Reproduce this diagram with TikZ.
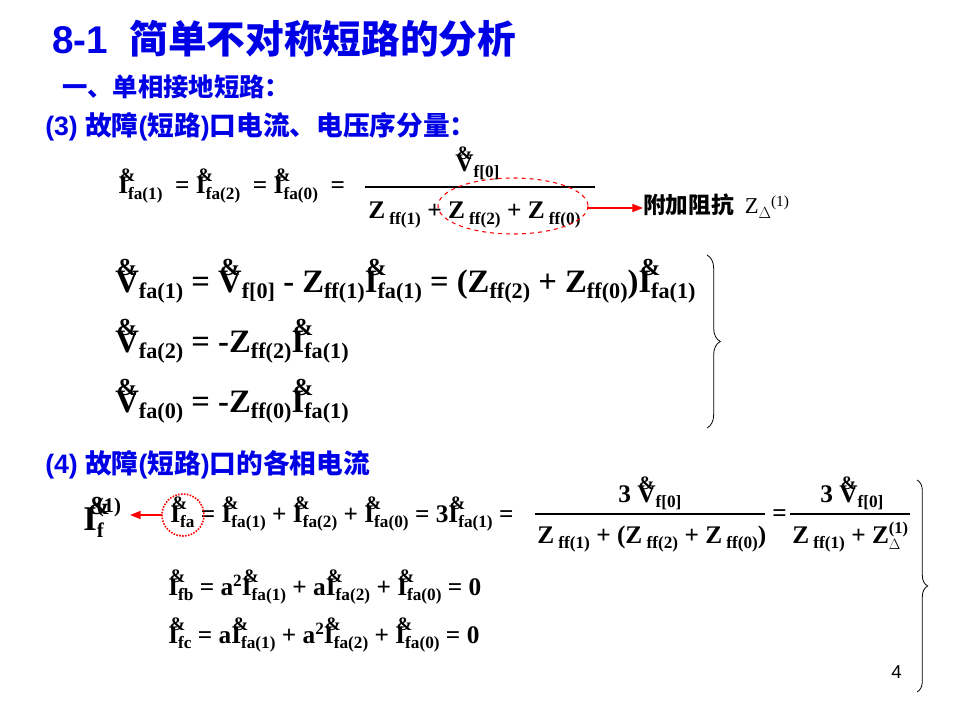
\documentclass[tikz,border=0pt]{standalone}
\usepackage{fontspec}
\setmainfont{Liberation Serif}
\newfontfamily\cjk{Noto Sans CJK SC}
\newfontfamily\arial{Liberation Sans}
\usetikzlibrary{decorations.pathreplacing,arrows.meta}
\newcommand\ph[2]{\makebox[0pt][l]{\hspace{0.05em}\raisebox{0.5em}{\scalebox{0.75}{\&}}}#1\raisebox{-0.45ex}{\scalebox{0.68}{#2}}}
\newcommand\sbs[1]{\raisebox{-0.45ex}{\scalebox{0.68}{#1}}}
\newcommand\supr[1]{\raisebox{0.7ex}{\scalebox{0.68}{#1}}}
\definecolor{tblue}{RGB}{0,0,230}
\begin{document}
\begin{tikzpicture}[x=0.75pt,y=-0.75pt,
  eqs/.style={anchor=base west,inner sep=0pt,font=\bfseries\fontsize{19}{22}\selectfont},
  eqb/.style={anchor=base west,inner sep=0pt,font=\bfseries\fontsize{24.5}{29}\selectfont},
  ttl/.style={anchor=base west,inner sep=0pt,text=tblue,font=\bfseries},
  bar/.style={line width=0.8pt},
  redarr/.style={red,line width=1.2pt,-{Triangle[length=8pt,width=6pt]}}]
\useasboundingbox (0,0) rectangle (960,720);
\fill[white] (0,0) rectangle (960,720);
\node[ttl,font=\bfseries\fontsize{29}{33}\selectfont] (t1) at (52,54) {\arial 8-1\ \ \cjk 简单不对称短路的分析};
\node[ttl,font=\fontsize{19}{22}\selectfont] (t2) at (62,97) {\cjk\bfseries 一、单相接地短路：};
\node[ttl,font=\fontsize{20}{24}\selectfont] (t3) at (45,136) {\arial\bfseries (3) \cjk 故障\arial(\cjk 短路\arial)\cjk 口电流、电压序分量：};
% eq1
\node[eqs] (e1) at (118,194) {\ph{I}{fa(1)}\ \ =\ \ph{I}{fa(2)}\ \ =\ \ph{I}{fa(0)}\ \ =};
\node[eqs] (n1) at (455,172) {\ph{V}{f[0]}};
\draw[bar] (365,187) -- (595,187);
\node[eqs] (d1) at (368,219) {Z\,\sbs{ff(1)} + Z\,\sbs{ff(2)} + Z\,\sbs{ff(0)}};
\draw[red,dashed,line width=0.8pt] (513,206) ellipse (75 and 28);
\coordinate (es) at (588,208);
\node[anchor=base west,inner sep=0pt,font=\fontsize{17}{20}\selectfont] (fj) at (643,214) {\cjk\bfseries 附加阻抗 \rmfamily\mdseries\ Z\raisebox{-0.4ex}{\scalebox{0.7}{$\Delta$}}\supr{(1)}};
\draw[redarr] (es) -- (fj.west |- es);
% big
\node[eqb] (e2) at (115,292) {\ph{V}{fa(1)} = \ph{V}{f[0]} - Z\sbs{ff(1)}\ph{I}{fa(1)} = (Z\sbs{ff(2)} + Z\sbs{ff(0)})\ph{I}{fa(1)}};
\node[eqb] (e3) at (115,352) {\ph{V}{fa(2)} = -Z\sbs{ff(2)}\ph{I}{fa(1)}};
\node[eqb] (e4) at (115,412) {\ph{V}{fa(0)} = -Z\sbs{ff(0)}\ph{I}{fa(1)}};
\draw[decorate,decoration={brace,amplitude=10pt},line width=0.6pt] (707,255) -- (707,428);
\node[ttl,font=\fontsize{20}{24}\selectfont] (t4) at (45,473) {\arial\bfseries (4) \cjk 故障\arial(\cjk 短路\arial)\cjk 口的各相电流};
% line 5
\node[anchor=base west,inner sep=0pt,font=\bfseries\fontsize{26}{30}\selectfont] (If) at (83,530) {\makebox[0pt][l]{\hspace{0.15em}\raisebox{0.45em}{\scalebox{0.75}{\&}}}I\makebox[0pt][l]{\raisebox{0.5em}{\scalebox{0.6}{(1)}}}\raisebox{-0.45ex}{\scalebox{0.6}{f}}};
\node[eqs] (e5) at (170,522) {\ph{I}{fa}\ = \ph{I}{fa(1)} + \ph{I}{fa(2)} + \ph{I}{fa(0)}\ = 3\ph{I}{fa(1)}\ =};
\draw[red,densely dotted,line width=1.2pt] (183,515) circle (21);
\draw[redarr] (162,515) -- (130,515);
\node[eqs] (n2) at (618,502) {3 \ph{V}{f[0]}};
\draw[bar] (535,514) -- (765,514);
\node[eqs] (d2) at (537,543) {Z\,\sbs{ff(1)} + (Z\,\sbs{ff(2)} + Z\,\sbs{ff(0)})};
\node[eqs] (eq) at (772,521) {=};
\node[eqs] (n3) at (820,502) {3 \ph{V}{f[0]}};
\draw[bar] (790,514) -- (910,514);
\node[eqs] (d3) at (792,543) {Z\,\sbs{ff(1)} + Z\makebox[0pt][l]{\raisebox{0.8ex}{\scalebox{0.65}{(1)}}}\raisebox{-0.6ex}{\scalebox{0.65}{$\Delta$}}};
\node[eqs] (e6) at (168,595) {\ph{I}{fb} = a\supr{2}\ph{I}{fa(1)} + a\ph{I}{fa(2)} + \ph{I}{fa(0)} = 0};
\node[eqs] (e7) at (168,643) {\ph{I}{fc} = a\ph{I}{fa(1)} + a\supr{2}\ph{I}{fa(2)} + \ph{I}{fa(0)} = 0};
\draw[decorate,decoration={brace,amplitude=8pt},line width=0.6pt] (917,480) -- (917,692);
\node[anchor=base west,inner sep=0pt,font=\arial\fontsize{14}{16}\selectfont] (pg) at (891,678) {4};
\end{tikzpicture}
\end{document}
